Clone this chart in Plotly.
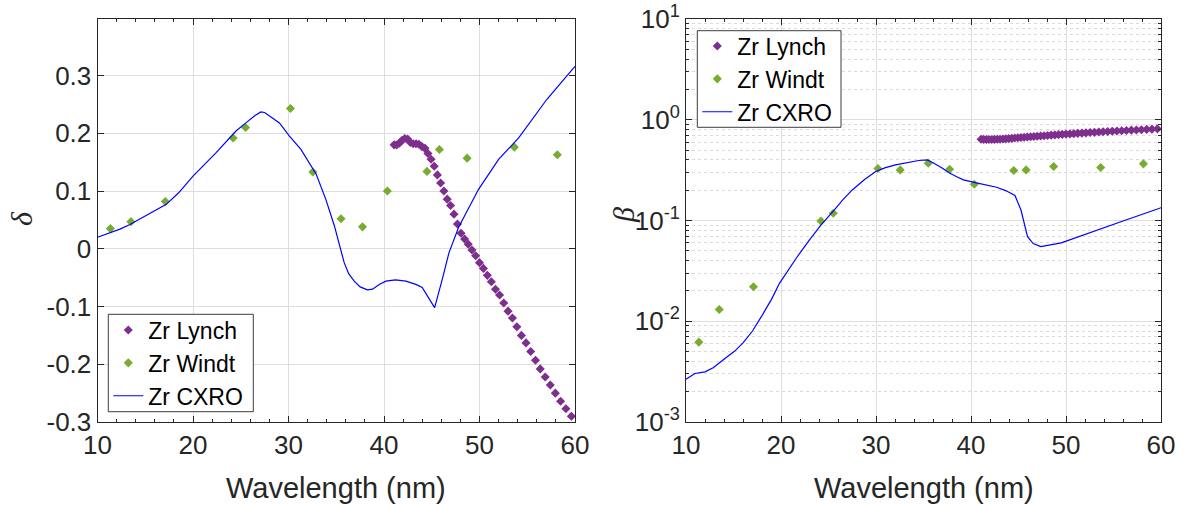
import plotly.graph_objects as go

# ---------------- data ----------------
# CXRO delta (left)
cxro_d_x = [10.0, 11.0, 12.35, 13.4, 15.0, 17.2, 18.5, 20.0, 22.4, 24.5, 25.6, 26.5, 27.1, 27.5,
            28.2, 29.05, 30.1, 31.3, 32.9, 33.9, 34.8, 35.3, 35.83, 36.3, 36.88, 37.5, 38.27, 38.8,
            39.5, 40.2, 41.2, 42.3, 43.4, 44.0, 44.7, 45.3, 46.1, 46.8, 47.8, 49.9, 52.0, 54.1,
            57.06, 60.0]
cxro_d_y = [0.020, 0.026, 0.034, 0.042, 0.057, 0.077, 0.097, 0.126, 0.166, 0.204, 0.219, 0.231,
            0.237, 0.236, 0.228, 0.218, 0.195, 0.172, 0.129, 0.086, 0.040, 0.010, -0.024, -0.043,
            -0.056, -0.066, -0.071, -0.070, -0.062, -0.056, -0.054, -0.056, -0.062, -0.067, -0.085,
            -0.102, -0.053, -0.007, 0.037, 0.103, 0.155, 0.192, 0.259, 0.316]

# CXRO beta (right)
cxro_b_x = [10.0, 10.94, 12.0, 12.86, 14.0, 15.13, 16.0, 17.0, 17.93, 19.0, 19.84, 21.6, 22.98,
            24.2, 25.6, 26.5, 27.5, 28.8, 29.97, 31.0, 32.06, 33.8, 34.5, 35.4, 36.0, 37.0, 37.64,
            38.5, 39.2, 40.44, 41.5, 42.7, 43.7, 44.63, 45.26, 45.6, 45.95, 46.55, 47.35, 49.5,
            51.5, 53.35, 56.15, 59.63, 60.0]
cxro_b_y = [0.00266, 0.00303, 0.00315, 0.00345, 0.0042, 0.00506, 0.0061, 0.0080, 0.0111, 0.0165,
            0.0238, 0.0422, 0.064, 0.090, 0.127, 0.160, 0.201, 0.255, 0.306, 0.335, 0.357, 0.385,
            0.394, 0.400, 0.375, 0.330, 0.299, 0.272, 0.253, 0.238, 0.226, 0.214, 0.197, 0.177,
            0.127, 0.095, 0.069, 0.059, 0.055, 0.060, 0.070, 0.082, 0.100, 0.130, 0.134]

# Windt
windt_x = [11.35, 13.5, 17.1, 24.2, 25.5, 30.2, 32.55, 35.5, 37.75, 40.35, 44.5, 45.8, 48.7,
           53.65, 58.15]
windt_d = [0.035, 0.047, 0.082, 0.192, 0.210, 0.243, 0.133, 0.052, 0.038, 0.100, 0.134, 0.172,
           0.157, 0.176, 0.163]
windt_b = [0.0062, 0.0131, 0.022, 0.099, 0.118, 0.328, 0.318, 0.371, 0.323, 0.229, 0.313, 0.318,
           0.343, 0.336, 0.365]

# Lynch
lynch_x = [41.06, 41.33, 41.61, 41.89, 42.18, 42.47, 42.76, 43.06, 43.36, 43.66, 43.97, 44.29,
           44.60, 44.93, 45.26, 45.59, 45.93, 46.27, 46.62, 46.97, 47.33, 47.69, 48.06, 48.44,
           48.82, 49.21, 49.60, 50.00, 50.41, 50.82, 51.24, 51.67, 52.10, 52.54, 52.99, 53.45,
           53.91, 54.39, 54.87, 55.36, 55.86, 56.36, 56.88, 57.41, 57.94, 58.49, 59.05, 59.62]
lynch_d = [0.180, 0.180, 0.183, 0.188, 0.191, 0.190, 0.184, 0.182, 0.182, 0.181, 0.177, 0.174,
           0.165, 0.155, 0.143, 0.128, 0.114, 0.100, 0.086, 0.075, 0.060, 0.043, 0.027, 0.017,
           0.008, -0.002, -0.012, -0.024, -0.034, -0.046, -0.057, -0.070, -0.080, -0.094, -0.108,
           -0.120, -0.135, -0.150, -0.163, -0.178, -0.193, -0.208, -0.222, -0.236, -0.250,
           -0.264, -0.277, -0.290]
lynch_b = [0.640, 0.638, 0.637, 0.637, 0.637, 0.638, 0.640, 0.641, 0.643, 0.646, 0.650, 0.654,
           0.658, 0.662, 0.666, 0.670, 0.674, 0.678, 0.682, 0.686, 0.690, 0.694, 0.698, 0.703,
           0.707, 0.712, 0.716, 0.720, 0.724, 0.728, 0.733, 0.737, 0.741, 0.746, 0.750, 0.755,
           0.760, 0.764, 0.769, 0.773, 0.778, 0.783, 0.788, 0.792, 0.797, 0.802, 0.807, 0.812]

x_ticks = [10, 20, 30, 40, 50, 60]
d_ticks = [-0.3, -0.2, -0.1, 0, 0.1, 0.2, 0.3]
d_ticktext = ["-0.3", "-0.2", "-0.1", "0", "0.1", "0.2", "0.3"]
b_ticks = [0.001, 0.01, 0.1, 1, 10]
b_ticktext = ["10<sup>-3</sup>", "10<sup>-2</sup>", "10<sup>-1</sup>", "10<sup>0</sup>", "10<sup>1</sup>"]
b_minor = [m * d for d in (0.001, 0.01, 0.1, 1) for m in range(2, 10)]

PURPLE = "#7E2F8E"
GREEN = "#77AC30"
BLUE = "#0000FF"
AX = "#262626"
GRID = "#dedede"
FONT = "Liberation Sans, Arial, sans-serif"

fig = go.Figure()

# left
fig.add_trace(go.Scatter(x=lynch_x, y=lynch_d, mode="markers", name="Zr Lynch",
                         marker=dict(symbol="diamond", size=7, color=PURPLE),
                         xaxis="x", yaxis="y", legend="legend"))
fig.add_trace(go.Scatter(x=windt_x, y=windt_d, mode="markers", name="Zr Windt",
                         marker=dict(symbol="diamond", size=7, color=GREEN),
                         xaxis="x", yaxis="y", legend="legend"))
fig.add_trace(go.Scatter(x=cxro_d_x, y=cxro_d_y, mode="lines", name="Zr CXRO",
                         line=dict(color=BLUE, width=1.2),
                         xaxis="x", yaxis="y", legend="legend"))
# right
fig.add_trace(go.Scatter(x=lynch_x, y=lynch_b, mode="markers", name="Zr Lynch",
                         marker=dict(symbol="diamond", size=7, color=PURPLE),
                         xaxis="x2", yaxis="y2", legend="legend2"))
fig.add_trace(go.Scatter(x=windt_x, y=windt_b, mode="markers", name="Zr Windt",
                         marker=dict(symbol="diamond", size=7, color=GREEN),
                         xaxis="x2", yaxis="y2", legend="legend2"))
fig.add_trace(go.Scatter(x=cxro_b_x, y=cxro_b_y, mode="lines", name="Zr CXRO",
                         line=dict(color=BLUE, width=1.2),
                         xaxis="x2", yaxis="y2", legend="legend2"))

W, H = 1185, 505
ydom = [1 - 422 / H, 1 - 19 / H]

common = dict(showline=True, linecolor=AX, linewidth=1, mirror="ticks", ticks="inside",
              ticklen=6, tickcolor=AX, showgrid=True, gridcolor=GRID, gridwidth=1,
              zeroline=False, tickfont=dict(family=FONT, size=26, color=AX))

xminor = dict(ticks="inside", ticklen=3, tickcolor=AX, dtick=2, showgrid=False)

legend_common = dict(bgcolor="rgba(0,0,0,0)", borderwidth=0,
                     font=dict(family=FONT, size=23, color="black"),
                     xanchor="left", yanchor="top", tracegroupgap=0)

fig.update_layout(
    width=W, height=H,
    margin=dict(l=0, r=0, t=0, b=0, autoexpand=False),
    paper_bgcolor="white", plot_bgcolor="white",
    xaxis=dict(domain=[97.5 / W, 575 / W], range=[10, 60], tickvals=x_ticks,
               anchor="y", minor=xminor, **common),
    yaxis=dict(domain=ydom, range=[-0.3, 0.398], tickvals=d_ticks, ticktext=d_ticktext,
               anchor="x", **common),
    xaxis2=dict(domain=[686 / W, 1161 / W], range=[10, 60], tickvals=x_ticks,
                anchor="y2", minor=xminor, **common),
    yaxis2=dict(domain=ydom, type="log", range=[-3, 1], tickvals=b_ticks, ticktext=b_ticktext,
                anchor="x2",
                minor=dict(tickvals=b_minor, ticks="inside", ticklen=3, tickcolor=AX,
                           showgrid=True, gridcolor="#dadada", griddash="dot"),
                **common),
    legend=dict(x=108.3 / W, y=1 - 308.5 / H, **legend_common),
    legend2=dict(x=697.3 / W, y=1 - 24.5 / H, **legend_common),
    showlegend=True,
)

# legend boxes (drawn as shapes so the box matches the reference exactly)
for (x0, y0, x1, y1) in [(108.3, 314.3, 253.3, 411.7), (697.3, 30.7, 841.0, 127.3)]:
    fig.add_shape(type="rect", xref="paper", yref="paper",
                  x0=x0 / W, x1=x1 / W, y0=1 - y1 / H, y1=1 - y0 / H,
                  fillcolor="white", line=dict(color="#3c3c3c", width=1), layer="above")

ann_font = dict(family=FONT, size=29, color=AX)
fig.add_annotation(text="Wavelength (nm)", x=336 / W, y=1 - 488 / H, xref="paper", yref="paper",
                   showarrow=False, xanchor="center", yanchor="middle", font=ann_font)
fig.add_annotation(text="Wavelength (nm)", x=923.5 / W, y=1 - 488 / H, xref="paper", yref="paper",
                   showarrow=False, xanchor="center", yanchor="middle", font=ann_font)
serif = dict(family="Liberation Serif, Times New Roman, serif", size=30, color=AX)
fig.add_annotation(text="<i>δ</i>", x=22 / W, y=1 - 219 / H, xref="paper", yref="paper",
                   showarrow=False, xanchor="center", yanchor="middle", textangle=-90, font=serif)
fig.add_annotation(text="<i>β</i>", x=624 / W, y=1 - 215 / H, xref="paper", yref="paper",
                   showarrow=False, xanchor="center", yanchor="middle", textangle=-90, font=serif)

fig.write_html("out.html", config={"displayModeBar": False},
               post_script="document.body.style.margin='0';document.body.style.padding='0';")
